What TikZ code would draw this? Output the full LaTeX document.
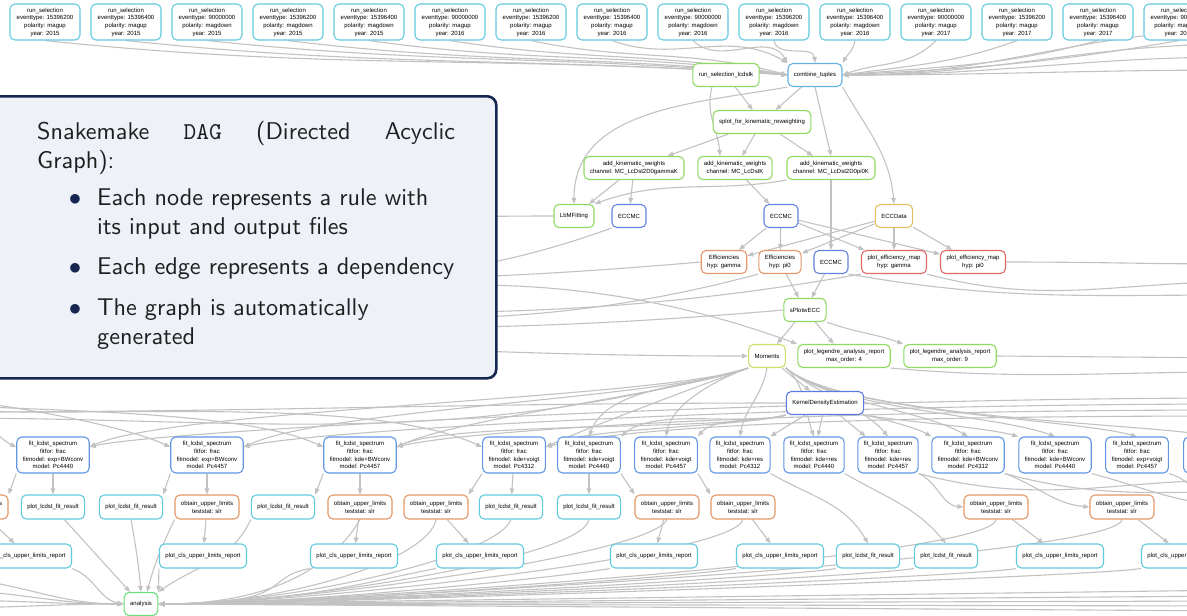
\documentclass[tikz,border=0pt]{standalone}
\usepackage{fontspec}
\newfontfamily\dagfont{Liberation Sans}
\newfontfamily\panelfont{lmsans10-regular.otf}
\newfontfamily\paneltt{lmmono10-regular.otf}
\usetikzlibrary{arrows.meta}

\definecolor{selcyan}{RGB}{98,202,222}
\definecolor{tupleblue}{RGB}{100,178,226}
\definecolor{rulegreen}{RGB}{142,218,98}
\definecolor{eccblue}{RGB}{100,130,222}
\definecolor{eccgold}{RGB}{228,192,98}
\definecolor{effcopper}{RGB}{228,152,104}
\definecolor{mapred}{RGB}{224,104,104}
\definecolor{momlime}{RGB}{204,224,104}
\definecolor{kdeblue}{RGB}{90,122,224}
\definecolor{fitblue}{RGB}{96,150,226}
\definecolor{anagreen}{RGB}{104,222,118}
\definecolor{edgegray}{RGB}{194,194,194}
\definecolor{boxnavy}{RGB}{22,38,80}
\definecolor{boxfill}{RGB}{238,241,248}

\setlength{\leftmargini}{60pt}
\setlength{\labelsep}{16pt}
\renewcommand{\labelitemi}{\textcolor{boxnavy}{$\bullet$}}

\pgfdeclarelayer{edges}
\pgfdeclarelayer{front}
\pgfsetlayers{edges,main,front}

\tikzset{
every picture/.style={x=1pt, y=-1pt,
                      >={Stealth[length=6pt, width=4.6pt, inset=0pt]}},
%%%%%%%%%%  Node styles
rule/.style={draw, fill=white, rounded corners=5pt, line width=1.1pt,
             align=center, inner xsep=6pt, inner ysep=1pt,
             minimum height=23pt, font=\dagfont\fontsize{6}{7.7}\selectfont},
selection/.style={rule, draw=selcyan, minimum width=70pt, minimum height=36pt},
tuples/.style={rule, draw=tupleblue},
greenrule/.style={rule, draw=rulegreen},
eccmc/.style={rule, draw=eccblue},
eccdata/.style={rule, draw=eccgold},
eff/.style={rule, draw=effcopper},
effmap/.style={rule, draw=mapred},
moments/.style={rule, draw=momlime},
kde/.style={rule, draw=kdeblue},
fitnode/.style={rule, draw=fitblue, minimum height=36pt},
result/.style={rule, draw=selcyan, minimum height=24pt},
limits/.style={rule, draw=effcopper, minimum height=24pt},
final/.style={rule, draw=anagreen},
%%%% edges and panel
dep/.style={draw=edgegray, line width=1.1pt, ->},
infobox/.style={draw=boxnavy, fill=boxfill, line width=2.6pt, rounded corners=9pt},
}

\begin{document}
\begin{tikzpicture}
\useasboundingbox (0,0) rectangle (1187,616);

% run_selection jobs
\foreach \ev/\pol/\yr [count=\i] in {15396200/magup/2015, 15396400/magup/2015,
    90000000/magdown/2015, 15396200/magdown/2015, 15396400/magdown/2015,
    90000000/magup/2016, 15396200/magup/2016, 15396400/magup/2016,
    90000000/magdown/2016, 15396200/magdown/2016, 15396400/magdown/2016,
    90000000/magup/2017, 15396200/magup/2017, 15396400/magup/2017,
    90000000/magdown/2017}
  \node[selection] (sel\i) at ({45+81*(\i-1)},22)
    {run\_selection\\eventtype: \ev\\polarity: \pol\\year: \yr};

% reweighting, efficiencies, moments
\node[greenrule] (lcdstk) at (726,75) {run\_selection\_lcdstk};
\node[tuples] (combine) at (815,75) {combine\_tuples};
\node[greenrule] (splot) at (762,122) {splot\_for\_kinematic\_reweighting};
\node[greenrule] (kinG) at (634,168) {add\_kinematic\_weights\\channel: MC\_LcDst2D0gammaK};
\node[greenrule] (kinK) at (735,168) {add\_kinematic\_weights\\channel: MC\_LcDstK};
\node[greenrule] (kinP) at (831,168) {add\_kinematic\_weights\\channel: MC\_LcDst2D0pi0K};
\node[greenrule] (lbm) at (574,216) {LbMFitting};
\node[eccmc] (eccA) at (629,216) {ECCMC};
\node[eccmc] (eccB) at (781,216) {ECCMC};
\node[eccdata] (eccD) at (894,216) {ECCData};
\node[eff] (effG) at (724,262) {Efficiencies\\hyp: gamma};
\node[eff] (effP) at (780,262) {Efficiencies\\hyp: pi0};
\node[eccmc] (eccC) at (831,262) {ECCMC};
\node[effmap] (mapG) at (894,262) {plot\_efficiency\_map\\hyp: gamma};
\node[effmap] (mapP) at (973,262) {plot\_efficiency\_map\\hyp: pi0};
\node[greenrule] (splotw) at (805,310) {sPlotwECC};
\node[moments] (moments) at (767,356) {Moments};
\node[greenrule] (legA) at (844,356) {plot\_legendre\_analysis\_report\\max\_order: 4};
\node[greenrule] (legB) at (950,356) {plot\_legendre\_analysis\_report\\max\_order: 9};
\node[kde] (kde) at (825,403) {KernelDensityEstimation};

% spectrum fits
\foreach \fm/\pc/\xx [count=\i] in {exp+BWconv/4440/53, exp+BWconv/4457/207,
    kde+BWconv/4457/360, kde+voigt/4312/514, kde+voigt/4440/589,
    kde+voigt/4457/666, kde+res/4312/740, kde+res/4440/814, kde+res/4457/888,
    kde+BWconv/4312/968, kde+BWconv/4440/1055, exp+voigt/4457/1137,
    exp+voigt/4312/1215}
  \node[fitnode] (fit\i) at (\xx,455)
    {fit\_lcdst\_spectrum\\fitfor: frac\\fitmodel: \fm\\model: Pc\pc};

% fit results, limits, reports
\foreach \nm/\xx in {res1/53, res2/131, res3/283, res4/511, res5/589}
  \node[result] (\nm) at (\xx,507) {plot\_lcdst\_fit\_result};
\foreach \nm/\xx in {lim0/-24, lim1/207, lim2/360, lim3/436, lim4/667,
    lim5/743, lim6/996, lim7/1122}
  \node[limits] (\nm) at (\xx,507) {obtain\_upper\_limits\\teststat: slr};
\foreach \nm/\xx in {cls0/28, cls1/203, cls2/354, cls3/480, cls4/654,
    cls5/780, cls6/1060, cls7/1185}
  \node[result] (\nm) at (\xx,556) {plot\_cls\_upper\_limits\_report};
\foreach \nm/\xx in {res6/868, res7/946}
  \node[result] (\nm) at (\xx,556) {plot\_lcdst\_fit\_result};
\node[final] (analysis) at (141,604) {analysis};

% rules outside the visible part
\foreach \k/\yy in {1/30, 2/44, 3/57, 4/70} \coordinate (selR\k) at (1240,\yy);
\foreach \k/\yy in {1/232, 2/262, 3/280, 4/298, 5/325, 6/335, 7/318, 8/304}
  \coordinate (hidW\k) at (-60,\yy);
\foreach \k/\yy in {1/264, 2/282, 3/295, 4/358, 5/372}
  \coordinate (hidE\k) at (1240,\yy);
\foreach \k/\yy in {1/398, 2/404, 3/410, 4/416} \coordinate (farR\k) at (1240,\yy);
\foreach \k/\yy in {1/392, 2/398, 3/404, 4/409, 5/412, 6/418} \coordinate (farL\k) at (-60,\yy);
\foreach \k/\yy in {1/480, 2/492, 3/505, 4/518} \coordinate (fitR\k) at (1240,\yy);
\foreach \k/\yy in {1/590, 2/596, 3/601, 4/606, 5/611} \coordinate (anaR\k) at (1240,\yy);
\foreach \k/\yy in {1/578, 2/590, 3/600, 4/608} \coordinate (anaL\k) at (-60,\yy);

\begin{pgfonlayer}{edges}
% into combine_tuples
\foreach \i/\outang/\anc/\inang in {1/-6/west/176, 2/-6/west/176, 3/-6/west/175,
    4/-7/west/174, 5/-8/west/172, 6/-9/west/170, 7/-12/west/165,
    8/-20/north west/150, 9/-45/north west/120, 10/-80/north/95,
    11/-100/north east/60, 12/-135/east/20, 13/-160/east/8,
    14/-165/east/5, 15/-170/east/3}
  \draw[dep] (sel\i.south) to[out=\outang,in=\inang] (combine.\anc);
\foreach \k in {1,...,4}
  \draw[dep] (selR\k) to[out=180,in=0] (combine.east);

% reweighting chain
\draw[dep] (lcdstk) -- (splot);
\draw[dep] ([xshift=-14pt]lcdstk.south) to[out=-105,in=95] ([xshift=-15pt]kinK.north);
\draw[dep] (combine) -- (splot);
\draw[dep] (combine.south west) to[out=-170,in=90] (lbm.north);
\draw[dep] (combine.south) -- (kinP.north);
\draw[dep] (combine.south east) to[out=-60,in=95] (eccD.north);
\foreach \dst in {kinG, kinK, kinP}
  \draw[dep] (splot) -- (\dst);
\draw[dep] (kinG) -- (lbm);
\draw[dep] (kinG) -- (eccA);
\draw[dep] (kinP.south west) to[out=190,in=20] (lbm.north east);
\draw[dep] (kinK) -- (eccB);
\draw[dep] (kinP) -- (eccC);
\foreach \src in {eccB, eccD}
  \foreach \dst in {effG, effP, mapG, mapP}
    \draw[dep] (\src) -- (\dst);
\draw[dep] (effP) -- (splotw);
\draw[dep] (eccC) -- (splotw);
\draw[dep] (splotw) -- (moments);
\draw[dep] (splotw) -- (legA);
\draw[dep] (splotw.south east) to[out=-20,in=160] (legB.north west);
\draw[dep] (moments) -- (kde);

% long edges leaving the picture
\draw[dep] (lbm.west) to[out=180,in=0] (hidW1);
\draw[dep] (eccA.south west) to[out=200,in=0] (hidW2);
\draw[dep] (effG.west) to[out=185,in=0] (hidW3);
\draw[dep] (effP.south west) to[out=195,in=0] (hidW4);
\draw[dep] (mapG.south west) to[out=190,in=0] (hidW8);
\draw[dep] (splotw.west) to[out=185,in=0] (hidW5);
\draw[dep] (mapP.east) to[out=0,in=180] (hidE1);
\draw[dep] (mapG.south east) to[out=-15,in=180] (hidE2);
\draw[dep] (eccC.south east) to[out=-10,in=180] (hidE3);
\draw[dep] (legB.east) -- (hidE4);
\draw[dep] (legA.south east) to[out=-5,in=180] (hidE5);
\draw[dep] (hidW6) to[out=0,in=180] (moments.west);
\draw[dep] (hidW7) to[out=0,in=160] (legA.north west);

% into the fits
\foreach \i/\lp in {1/0.35, 2/0.45, 3/0.5, 4/0.6}
  \draw[dep] (moments.south west) to[out=200,in=25,looseness=\lp]
    ([yshift=8pt]fit\i.east);
\foreach \i/\inang in {5/70, 6/80}
  \draw[dep] (moments.south west) to[out=200,in=\inang,looseness=0.8] (fit\i.north);
\draw[dep] (moments.south) to[out=-100,in=80] (fit7.north);
\foreach \i/\inang/\lp in {8/110/0.9, 9/130/0.8, 10/150/0.7, 11/160/0.6,
    12/165/0.5, 13/170/0.45}
  \draw[dep] (moments.south east) to[out=-40,in=\inang,looseness=\lp] (fit\i.north);
\foreach \i/\lp in {3/0.4, 4/0.5}
  \draw[dep] (kde.south west) to[out=195,in=25,looseness=\lp] ([yshift=8pt]fit\i.east);
\foreach \i/\inang in {5/40, 6/50}
  \draw[dep] (kde.south west) to[out=195,in=\inang,looseness=0.7] (fit\i.north east);
\foreach \i in {7,8,9}
  \draw[dep] (kde) -- (fit\i);
\foreach \i/\inang in {10/150, 11/165}
  \draw[dep] (kde.south east) to[out=-10,in=\inang,looseness=0.6] (fit\i.north west);
\foreach \k/\i in {1/1, 2/2, 3/3, 4/4}
  \draw[dep] (farR\k) .. controls ([xshift=-450pt]farR\k)
    and ([shift={(70pt,25pt)}]fit\i.east) .. ([yshift=8pt]fit\i.east);
\foreach \k/\i in {1/1, 2/2, 3/3, 4/4}
  \draw[dep] (farL\k) to[out=-5,in=155,looseness=0.6] ([yshift=8pt]fit\i.west);
\draw[dep] (kde.west) to[out=180,in=0] (farL5);
\draw[dep] (moments.south west) to[out=195,in=0] (farL6);

% fits to results and limits
\draw[dep] (fit1) -- (res1);
\draw[dep] (fit1.south west) -- (lim0.north east);
\draw[dep] (fit2) -- (lim1);
\draw[dep] (fit2.south west) -- (res2.north east);
\draw[dep] (fit3) -- (lim2);
\draw[dep] (fit3.south west) -- (res3.north east);
\draw[dep] (fit4) -- (res4);
\draw[dep] (fit4.south west) -- (lim3.north east);
\draw[dep] (fit5) -- (res5);
\draw[dep] (fit5.south east) -- (lim4.north west);
\draw[dep] (fit6.south east) -- (lim5.north west);
\draw[dep] (fit7.south east) to[out=-30,in=120] (res6.north);
\draw[dep] (fit8.south east) to[out=-30,in=130] (res7.north);
\draw[dep] (fit9.south east) to[out=-25,in=175] (lim6.west);
\draw[dep] (fit10.south east) to[out=-20,in=175] (lim7.west);
\foreach \i/\k in {9/1, 10/2, 11/3, 12/4}
  \draw[dep] (fit\i.south east) to[out=-15,in=180] (fitR\k);

% limits to reports
\foreach \i in {0,...,7}
  \draw[dep] (lim\i) -- (cls\i);

% everything into analysis
\draw[dep] (res1) -- (analysis);
\draw[dep] (res2.south) to[out=-80,in=95] (analysis.north);
\draw[dep] (cls0.south east) to[out=-20,in=170] (analysis.west);
\draw[dep] (cls1.south west) -- (analysis.north east);
\draw[dep] (lim1.south west) to[out=-115,in=75] ([xshift=6pt]analysis.north);
\draw[dep] (res3.south west) to[out=-115,in=35] (analysis.north east);
\foreach \nd/\outang in {lim2/-120, lim3/-100, res4/-110, res5/-100, lim4/-115,
    lim5/-105, lim6/-95, lim7/-95}
  \draw[dep] (\nd.south) .. controls ([shift={(\outang:40pt)}]\nd.south)
    and ([xshift=130pt]analysis.east) .. (analysis.east);
\foreach \nd in {cls2, cls3, cls4, cls5, res6, res7, cls6, cls7}
  \draw[dep] (\nd.south west) .. controls ([shift={(190:50pt)}]\nd.south west)
    and ([xshift=140pt]analysis.east) .. (analysis.east);
\foreach \k in {1,...,5}
  \draw[dep] (anaR\k) -- (analysis.east);
\foreach \k in {1,...,4}
  \draw[dep] (anaL\k) to[out=0,in=180] (analysis.west);
\end{pgfonlayer}

% explanation panel
\begin{pgfonlayer}{front}
\node[infobox, anchor=north west, minimum width=515pt, minimum height=282pt]
  (panel) at (-20,95) {};
\node[anchor=north west, text width=430pt, inner sep=0pt, text=black!88,
      font=\panelfont\fontsize{24.2}{29}\selectfont] (note) at (37,121)
  {\hbox to 418pt{Snakemake\hfill{\paneltt DAG}\hfill(Directed\hfill Acyclic}
   Graph):
   \begin{itemize}\setlength{\itemsep}{7.5pt}
   \item Each node represents a rule with\\its input and output files
   \item Each edge represents a dependency
   \item The graph is automatically\\generated
   \end{itemize}};
\end{pgfonlayer}
\end{tikzpicture}
\end{document}
